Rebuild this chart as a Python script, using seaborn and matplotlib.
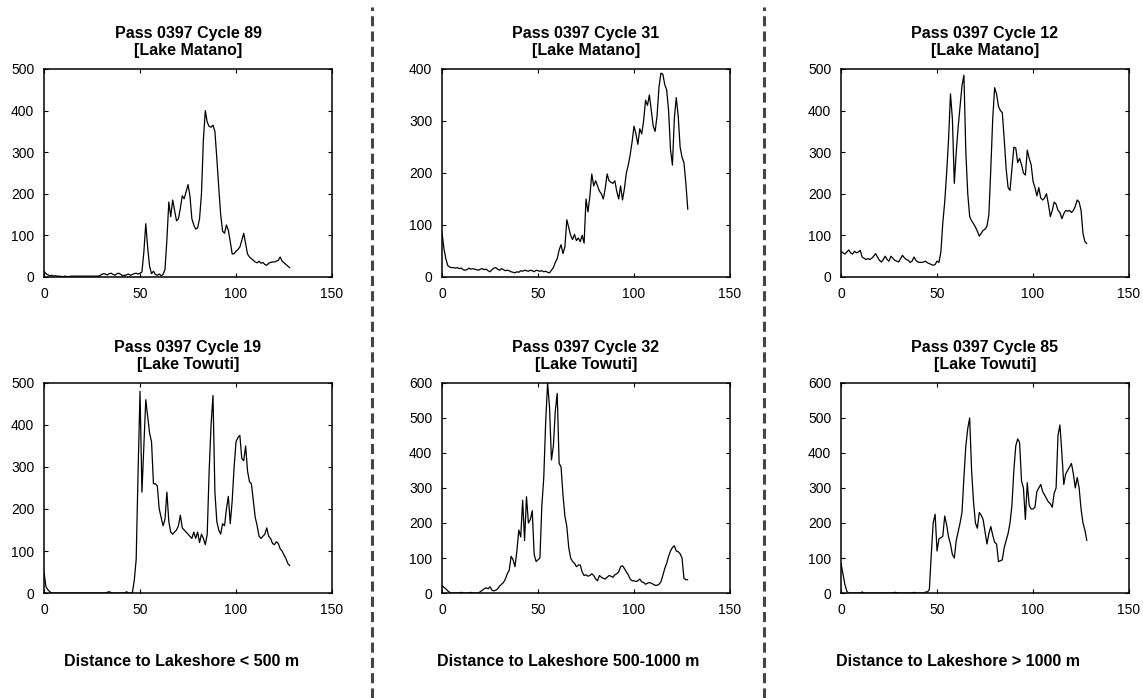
import matplotlib.pyplot as plt
import numpy as np
import seaborn as sns
from matplotlib.lines import Line2D

# Data (waveform samples, one value per bin 0..128)
bins = np.arange(129)

cycle89_matano = [14, 8, 5, 3, 4, 2, 3, 2, 2, 1, 1, 2, 1, 1, 2, 2, 2, 2, 2, 2,
                  2, 2, 2, 2, 2, 2, 2, 2, 2, 3, 6, 8, 7, 5, 8, 9, 6, 4, 8, 9,
                  6, 3, 4, 5, 7, 4, 6, 8, 9, 7, 9, 12, 60, 128, 70, 25, 8, 14, 6, 4,
                  7, 3, 6, 18, 90, 180, 145, 185, 160, 135, 140, 165, 195, 188, 205, 222, 195, 140, 125, 115,
                  118, 140, 200, 330, 400, 372, 362, 360, 365, 350, 285, 215, 150, 110, 105, 125, 112, 85, 55, 56,
                  62, 66, 72, 88, 105, 80, 55, 48, 44, 40, 36, 34, 38, 33, 35, 30, 28, 33, 35, 36,
                  36, 38, 40, 48, 38, 34, 30, 26, 22]

cycle31_matano = [85, 55, 35, 22, 19, 18, 18, 17, 18, 16, 17, 14, 13, 14, 17, 15, 16, 15, 14, 13,
                  15, 16, 14, 15, 12, 10, 14, 17, 18, 15, 13, 16, 14, 12, 13, 12, 10, 9, 8, 10,
                  9, 12, 11, 13, 12, 11, 13, 12, 10, 13, 12, 11, 12, 10, 11, 9, 8, 13, 18, 28,
                  35, 52, 62, 45, 58, 110, 95, 80, 72, 82, 70, 75, 68, 80, 65, 150, 125, 155, 198, 175,
                  185, 175, 165, 160, 150, 170, 198, 185, 182, 180, 185, 165, 150, 175, 148, 170, 200, 215, 235, 260,
                  290, 275, 255, 285, 275, 300, 340, 330, 350, 320, 290, 280, 310, 365, 392, 390, 370, 360, 320, 245,
                  215, 305, 345, 310, 250, 230, 220, 180, 130]

cycle12_matano = [62, 58, 55, 60, 65, 58, 55, 62, 58, 60, 64, 48, 45, 42, 44, 42, 45, 50, 56, 48,
                  40, 36, 42, 50, 42, 38, 50, 45, 40, 38, 36, 44, 52, 46, 42, 40, 35, 38, 48, 40,
                  36, 35, 35, 36, 38, 34, 32, 30, 28, 30, 38, 35, 60, 130, 180, 250, 330, 440, 380, 225,
                  300, 360, 410, 460, 485, 300, 200, 145, 135, 128, 120, 110, 98, 105, 112, 115, 122, 150, 260, 380,
                  455, 440, 410, 400, 395, 330, 260, 215, 208, 260, 312, 310, 275, 285, 270, 250, 245, 305, 285, 270,
                  230, 215, 195, 215, 190, 185, 190, 200, 175, 145, 160, 180, 175, 160, 155, 140, 152, 160, 158, 160,
                  155, 160, 170, 185, 180, 160, 105, 85, 80]

cycle19_towuti = [50, 15, 8, 3, 0, 0, 0, 0, 0, 0, 0, 0, 0, 0, 0, 0, 0, 0, 0, 0,
                  0, 0, 0, 0, 0, 0, 0, 0, 0, 0, 0, 0, 0, 2, 3, 1, 0, 0, 0, 0,
                  0, 0, 0, 3, 0, 0, 0, 30, 80, 290, 480, 240, 350, 460, 420, 380, 360, 260, 260, 255,
                  200, 180, 160, 175, 240, 170, 145, 140, 145, 150, 160, 185, 155, 150, 145, 140, 135, 130, 145, 130,
                  145, 120, 140, 130, 115, 140, 290, 400, 470, 240, 170, 150, 140, 165, 160, 200, 230, 165, 220, 300,
                  360, 370, 375, 320, 315, 350, 290, 265, 260, 220, 180, 160, 135, 130, 135, 140, 155, 135, 130, 118,
                  115, 122, 118, 105, 100, 90, 82, 70, 65]

cycle32_towuti = [22, 16, 12, 6, 2, 0, 0, 0, 0, 0, 2, 0, 0, 0, 0, 2, 0, 0, 0, 0,
                  4, 8, 12, 15, 12, 18, 8, 6, 8, 12, 20, 25, 30, 40, 55, 65, 105, 95, 75, 120,
                  180, 160, 265, 150, 275, 200, 210, 235, 110, 90, 95, 100, 250, 330, 490, 600, 530, 380, 420, 520,
                  570, 370, 360, 280, 220, 190, 130, 100, 90, 85, 75, 80, 80, 60, 50, 52, 48, 50, 55, 50,
                  40, 35, 50, 45, 42, 40, 45, 50, 48, 45, 52, 55, 60, 75, 78, 70, 60, 52, 40, 35,
                  35, 33, 35, 40, 32, 30, 25, 28, 30, 28, 25, 22, 22, 25, 32, 50, 70, 85, 105, 120,
                  130, 135, 120, 118, 112, 100, 42, 38, 38]

cycle85_towuti = [85, 55, 25, 5, 0, 0, 0, 0, 0, 0, 0, 3, 0, 0, 0, 0, 0, 0, 0, 0,
                  0, 0, 0, 0, 0, 0, 0, 0, 2, 1, 0, 0, 0, 0, 0, 0, 0, 0, 2, 0,
                  0, 0, 0, 0, 3, 3, 10, 110, 200, 225, 120, 155, 158, 162, 220, 195, 160, 140, 110, 100,
                  150, 175, 200, 230, 330, 420, 470, 500, 350, 260, 200, 185, 230, 222, 210, 175, 140, 170, 190, 165,
                  145, 140, 90, 92, 95, 130, 150, 170, 200, 250, 350, 420, 440, 430, 320, 300, 210, 315, 250, 240,
                  240, 245, 290, 300, 310, 290, 280, 270, 260, 255, 245, 285, 300, 450, 480, 400, 310, 340, 350, 360,
                  370, 340, 300, 330, 300, 240, 200, 180, 150]

titles = [
    "Pass 0397 Cycle 89\n[Lake Matano]",
    "Pass 0397 Cycle 31\n[Lake Matano]",
    "Pass 0397 Cycle 12\n[Lake Matano]",
    "Pass 0397 Cycle 19\n[Lake Towuti]",
    "Pass 0397 Cycle 32\n[Lake Towuti]",
    "Pass 0397 Cycle 85\n[Lake Towuti]",
]
series = [cycle89_matano, cycle31_matano, cycle12_matano,
          cycle19_towuti, cycle32_towuti, cycle85_towuti]
y_max = [500, 400, 500, 500, 600, 600]
x_ticks = [0, 50, 100, 150]
group_labels = ["Distance to Lakeshore < 500 m",
                "Distance to Lakeshore 500-1000 m",
                "Distance to Lakeshore > 1000 m"]

sns.set_theme(style="ticks", rc={
    "xtick.direction": "in", "ytick.direction": "in",
    "xtick.top": True, "ytick.right": True,
    "xtick.major.size": 3, "ytick.major.size": 3,
    "xtick.major.width": 0.8, "ytick.major.width": 0.8,
    "xtick.major.pad": 7.5, "ytick.major.pad": 7,
    "axes.edgecolor": "black", "axes.linewidth": 1.1,
    "xtick.color": "black", "ytick.color": "black",
    "text.color": "black", "axes.labelcolor": "black", "axes.titlecolor": "black",
})
plt.rcParams["font.family"] = ["Liberation Sans", "DejaVu Sans"]

fig = plt.figure(figsize=(11.43, 6.98), dpi=100)

# axes boxes in figure fractions
lefts = [0.0385, 0.3867, 0.7358]
bottoms = [0.6032, 0.1504]
heights = [0.298, 0.301]
width = 0.252

for i, (vals, title, ym) in enumerate(zip(series, titles, y_max)):
    row, col = divmod(i, 3)
    ax = fig.add_axes([lefts[col], bottoms[row], width, heights[row]])
    sns.lineplot(x=bins, y=vals, ax=ax, color="black", linewidth=0.9, estimator=None)
    ax.set_xlim(0, 150)
    ax.set_ylim(0, ym)
    ax.set_xticks(x_ticks)
    ax.set_yticks(np.arange(0, ym + 1, 100))
    ax.tick_params(labelsize=10)
    ax.set_title(title, fontsize=11.5, fontweight="bold", pad=10, linespacing=1.15)
    ax.set_xlabel("")
    ax.set_ylabel("")

# dashed separators between the distance groups
for xs in [0.3255, 0.6684]:
    fig.add_artist(Line2D([xs, xs], [0.0, 0.99], transform=fig.transFigure,
                          color="#454545", linewidth=2.2, linestyle=(0, (3.3, 1.7))))

for xc, label in zip([0.159, 0.497, 0.838], group_labels):
    fig.text(xc, 0.052, label, ha="center", va="center", fontsize=11.5, fontweight="bold")

fig.savefig("out.png", dpi=100)
